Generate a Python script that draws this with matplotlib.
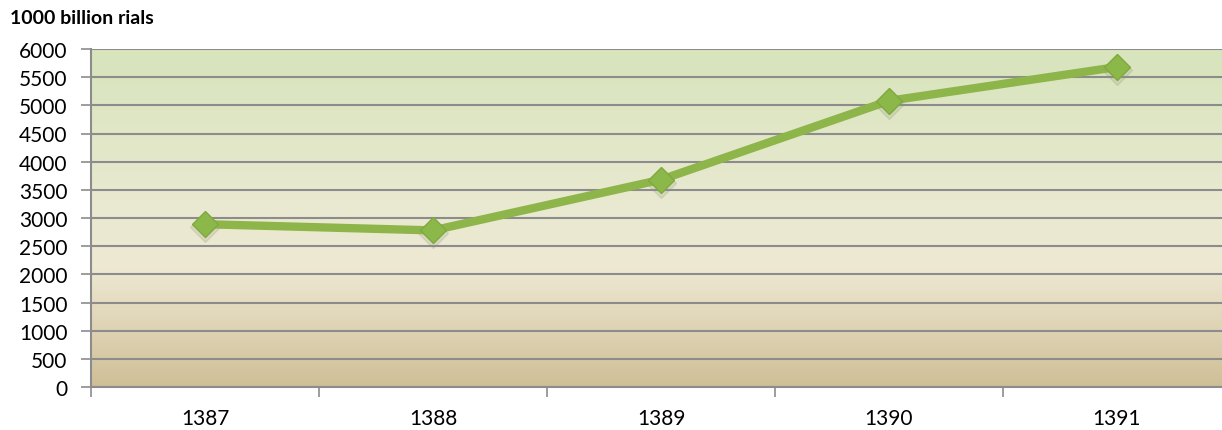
import matplotlib
matplotlib.use("Agg")
import matplotlib.pyplot as plt
import numpy as np
from matplotlib.colors import LinearSegmentedColormap

years = ["1387", "1388", "1389", "1390", "1391"]
values = [2890, 2780, 3680, 5080, 5680]

plt.rcParams['font.family'] = ['Lato', 'DejaVu Sans']

fig = plt.figure(figsize=(12.22, 4.31), dpi=100)
ax = fig.add_axes([91 / 1222, 1 - 388 / 431, 1140 / 1222, 338 / 431])

# fond en dégradé (vert en haut, beige au bas)
cmap = LinearSegmentedColormap.from_list(
    "bg", [(0, "#cfbf97"), (0.35, "#eee8d2"), (0.55, "#e9e9d0"), (1, "#d7e4bc")])
grad = np.linspace(0, 1, 256).reshape(-1, 1)
ax.imshow(grad, aspect="auto", cmap=cmap, origin="lower",
          extent=[-0.5, 4.5, 0, 6000], zorder=0)

x = np.arange(len(years))
# ombre légère sous les marqueurs
ax.plot(x, np.array(values) - 50, color="#6b7a50", alpha=0.15, lw=0,
        marker="D", ms=15, zorder=2)
ax.plot(x, values, color="#8db54a", lw=6, marker="D", ms=13,
        markerfacecolor="#8cb84a", markeredgecolor="#7fa83f", zorder=3)

ax.set_xlim(-0.5, 4.5)
ax.set_ylim(0, 6000)
ax.set_yticks(range(0, 6001, 500))
ax.set_xticks(x)
ax.set_xticklabels(years)
ax.set_xticks(np.arange(-0.5, 5, 1), minor=True)
ax.tick_params(axis="x", which="major", length=0, pad=15, labelsize=15)
ax.tick_params(axis="x", which="minor", length=7, color="#8c8c8c", width=1.2)
ax.tick_params(axis="y", length=7, color="#8c8c8c", width=1.2, labelsize=15, pad=10)

ax.grid(axis="y", color="#8c8c8c", lw=1.5, zorder=1)
ax.set_axisbelow(False)
for s in ["top", "right"]:
    ax.spines[s].set_visible(False)
for s in ["left", "bottom"]:
    ax.spines[s].set_color("#8c8c8c")
    ax.spines[s].set_linewidth(1.5)

fig.text(10 / 1222, 1 - 19 / 431, "1000 billion rials", fontsize=14,
         fontweight="bold", va="center", ha="left")

fig.savefig("out.png", dpi=100)
